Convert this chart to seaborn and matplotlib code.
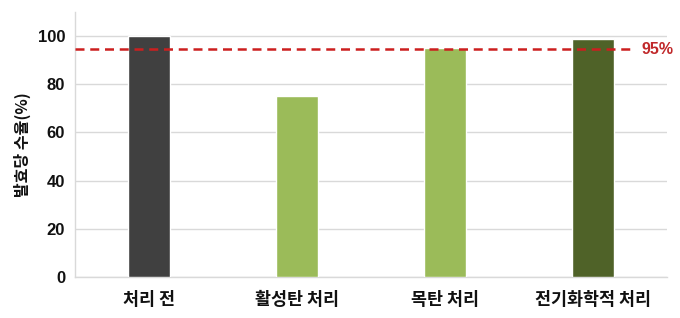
import matplotlib
matplotlib.use("Agg")
import matplotlib.pyplot as plt
import seaborn as sns
import pandas as pd

categories = ["처리 전", "활성탄 처리", "목탄 처리", "전기화학적 처리"]
values = [100, 75, 95, 99]
bar_colors = ["#404040", "#9BBB59", "#9BBB59", "#4F6228"]
threshold = 94.5
threshold_label = "95%"
yticks = [0, 20, 40, 60, 80, 100]
ylabel = "발효당 수율(%)"

sns.set_theme(style="white")
plt.rcParams['font.family'] = ['Noto Sans CJK KR', 'DejaVu Sans']

df = pd.DataFrame({"cat": categories, "val": values})

fig = plt.figure(figsize=(6.8, 3.18), dpi=100)
ax = fig.add_axes([0.110, 0.129, 0.871, 0.833])

sns.barplot(data=df, x="cat", y="val", hue="cat", palette=bar_colors,
            width=0.28, legend=False, ax=ax, saturation=1, zorder=3)

ax.set_xlim(-0.5, 3.5)
ax.set_ylim(0, 110)
ax.set_yticks(yticks)
ax.set_yticklabels([str(t) for t in yticks], fontsize=12, fontweight='bold', color='#111111',
                   family=['Liberation Sans', 'DejaVu Sans'])
ax.yaxis.grid(True, color='#D9D9D9', linewidth=1, zorder=0)
ax.set_axisbelow(True)

ax.set_xticks(range(len(categories)))
ax.set_xticklabels(categories, fontsize=12.5, fontweight='bold', color='#111111')
ax.set_xticks([-0.5, 0.5, 1.5, 2.5, 3.5], minor=True)
ax.tick_params(axis='x', which='major', length=0, pad=10)
ax.tick_params(axis='x', which='minor', length=4, color='#D9D9D9', width=1)
ax.tick_params(axis='y', length=0, pad=7)

for s in ['top', 'right']:
    ax.spines[s].set_visible(False)
for s in ['left', 'bottom']:
    ax.spines[s].set_color('#D9D9D9')
    ax.spines[s].set_linewidth(1)

ax.set_xlabel("")
ax.set_ylabel(ylabel, fontsize=11.5, fontweight='bold', color='#111111', labelpad=5)

ax.axhline(threshold, xmin=0, xmax=0.942, color='#CC1F1F', linestyle=(0, (3.6, 2.3)),
           linewidth=1.8, zorder=4)
ax.text(0.956, threshold, threshold_label, transform=ax.get_yaxis_transform(),
        color='#C0282A', fontsize=11.5, fontweight='bold', va='center', ha='left',
        family=['Liberation Sans', 'DejaVu Sans'])

fig.savefig("out.png", dpi=100)
